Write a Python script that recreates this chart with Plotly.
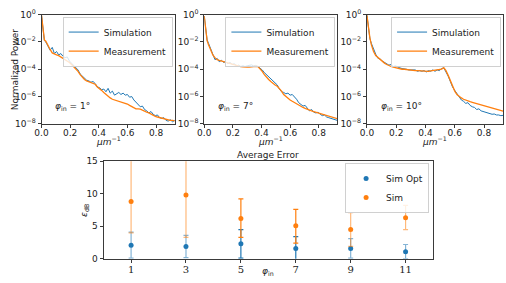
import plotly.graph_objects as go

# ---------------- data ----------------
FREQ = [0.000, 0.010, 0.020, 0.030, 0.045, 0.060, 0.075, 0.090, 0.105, 0.120, 0.135,
        0.150, 0.165, 0.180, 0.195, 0.210, 0.225, 0.240, 0.255, 0.270, 0.285, 0.300,
        0.315, 0.330, 0.345, 0.360, 0.375, 0.390, 0.405, 0.420, 0.435, 0.450, 0.465,
        0.480, 0.495, 0.510, 0.525, 0.540, 0.555, 0.570, 0.585, 0.600, 0.615, 0.630,
        0.645, 0.660, 0.675, 0.690, 0.705, 0.720, 0.735, 0.750, 0.765, 0.780, 0.795,
        0.810, 0.825, 0.840, 0.855, 0.870, 0.885, 0.900, 0.915, 0.930, 0.945, 0.960]

# log10 of normalized power
SIM_1 = [-0.05, -1.0, -1.9, -2.0, -2.25, -2.6, -2.4, -2.85, -2.7, -2.95, -2.85,
         -3.05, -3.15, -3.1, -3.4, -3.55, -3.75, -3.9, -4.05, -4.35, -4.5, -4.7,
         -4.8, -4.85, -4.95, -4.9, -5.05, -5.3, -5.35, -5.5, -5.45, -5.65, -5.4,
         -5.75, -5.6, -5.9, -5.8, -5.7, -5.85, -5.75, -5.9, -5.85, -6.05, -6.0,
         -6.25, -6.4, -6.6, -6.75, -6.7, -6.95, -7.05, -7.2, -7.1, -7.3, -7.4,
         -7.35, -7.55, -7.6, -7.55, -7.75, -7.8, -7.7, -7.85, -7.75, -7.8, -7.7]
MEAS_1 = [-0.05, -1.0, -1.85, -1.95, -2.3, -2.55, -2.8, -2.9, -2.95, -3.0, -3.1,
          -3.15, -3.25, -3.35, -3.5, -3.65, -3.8, -3.95, -4.15, -4.4, -4.6, -4.75,
          -4.85, -4.9, -4.95, -5.0, -5.1, -5.3, -5.4, -5.55, -5.7, -5.85, -5.95,
          -6.1, -6.2, -6.25, -6.3, -6.35, -6.35, -6.4, -6.45, -6.55, -6.65, -6.75,
          -6.85, -6.9, -6.9, -6.92, -7.0, -7.1, -7.15, -7.2, -7.3, -7.4, -7.45,
          -7.5, -7.55, -7.6, -7.65, -7.7, -7.72, -7.75, -7.75, -7.78, -7.8, -7.82]

SIM_7 = [-0.1, -1.0, -1.85, -2.1, -2.5, -2.8, -3.3, -3.2, -3.45, -3.35, -3.5,
         -3.45, -3.6, -3.5, -3.65, -3.6, -3.75, -3.7, -3.8, -3.75, -3.8, -3.75,
         -3.7, -3.68, -3.75, -3.72, -3.8, -3.9, -4.05, -4.25, -4.4, -4.5, -4.65,
         -4.8, -4.95, -5.15, -5.45, -5.65, -5.7, -5.8, -5.75, -5.9, -5.85, -6.0,
         -6.2, -6.45, -6.55, -6.7, -6.65, -6.9, -7.05, -6.95, -7.15, -7.2, -7.15,
         -7.3, -7.4, -7.35, -7.5, -7.55, -7.6, -7.65, -7.7, -7.75, -7.7, -7.75]
MEAS_7 = [-0.1, -1.0, -1.9, -2.2, -2.6, -2.95, -3.15, -3.3, -3.35, -3.4, -3.45,
          -3.5, -3.55, -3.6, -3.65, -3.7, -3.72, -3.75, -3.8, -3.82, -3.85, -3.85,
          -3.85, -3.82, -3.8, -3.78, -3.8, -3.95, -4.15, -4.4, -4.6, -4.75, -4.9,
          -5.05, -5.15, -5.25, -5.4, -5.6, -5.85, -6.0, -6.15, -6.25, -6.35, -6.45,
          -6.55, -6.65, -6.72, -6.8, -6.87, -6.95, -7.0, -7.05, -7.1, -7.15, -7.2,
          -7.25, -7.3, -7.35, -7.4, -7.45, -7.5, -7.55, -7.6, -7.65, -7.7, -7.72]

SIM_10 = [-0.05, -1.0, -1.75, -2.1, -2.55, -2.9, -3.2, -3.25, -3.4, -3.5, -3.55,
          -3.7, -3.65, -3.8, -3.75, -3.85, -3.9, -3.95, -3.95, -4.0, -4.05, -4.05,
          -4.1, -4.05, -4.15, -4.1, -4.15, -4.1, -4.2, -4.1, -4.15, -4.05, -4.15,
          -4.05, -4.1, -3.95, -3.9, -4.15, -4.5, -4.9, -5.3, -5.55, -5.8, -6.05,
          -6.25, -6.35, -6.5, -6.45, -6.65, -6.75, -6.8, -6.95, -6.9, -7.05, -7.1,
          -7.15, -7.2, -7.25, -7.3, -7.28, -7.35, -7.35, -7.4, -7.38, -7.4, -7.42]
MEAS_10 = [-0.05, -1.0, -1.7, -2.2, -2.7, -3.0, -3.15, -3.3, -3.45, -3.55, -3.65,
           -3.75, -3.8, -3.85, -3.9, -3.95, -3.97, -4.0, -4.0, -4.03, -4.05, -4.07,
           -4.08, -4.1, -4.1, -4.12, -4.13, -4.15, -4.15, -4.15, -4.12, -4.1, -4.1,
           -4.07, -4.05, -4.0, -3.88, -4.1, -4.45, -4.85, -5.25, -5.6, -5.85, -6.0,
           -6.1, -6.2, -6.27, -6.33, -6.38, -6.42, -6.47, -6.52, -6.57, -6.62, -6.67,
           -6.72, -6.77, -6.82, -6.87, -6.92, -6.96, -7.0, -7.04, -7.07, -7.1, -7.13]

PANEL_LABELS = ["1", "7", "10"]
Y_TICK_EXP = [0, -2, -4, -6, -8]
X_TICKS_TOP = [0.0, 0.2, 0.4, 0.6, 0.8]

PHI_IN = [1, 3, 5, 7, 9, 11]
SIM_OPT = [2.1, 1.9, 2.3, 1.6, 1.6, 1.1]
SIM_OPT_ERR = [2.0, 1.7, 2.2, 1.8, 1.5, 1.1]
SIM = [8.8, 9.8, 6.2, 5.1, 4.5, 6.3]
SIM_ERR_PLUS = [7.0, 6.5, 3.0, 2.5, 2.6, 1.9]
SIM_ERR_MINUS = [4.8, 6.5, 2.9, 2.7, 2.6, 1.8]

# ---------------- style ----------------
W, H = 506, 283
BLUE = "#1f77b4"
ORANGE = "#ff7f0e"
AX = "#3a3a3a"
FONT = "DejaVu Sans"
DARK_ERR_AT = {5, 7}


def px_x(p):
    return p / W


def px_y(p):
    return 1 - p / H


top_domains = [(35, 170), (200, 335), (365, 503)]
top_y = (8, 122)
bot_x = (98, 432)
bot_y = (161, 263)

fig = go.Figure()

axis_common = dict(showline=True, mirror=True, linecolor=AX, linewidth=1,
                   ticks="outside", ticklen=3, tickcolor=AX, tickwidth=1,
                   showgrid=False, zeroline=False,
                   tickfont=dict(family=FONT, size=9, color="#222"))

sims = [SIM_1, SIM_7, SIM_10]
meas = [MEAS_1, MEAS_7, MEAS_10]
annotations = []
for i in range(3):
    xa = "x" if i == 0 else f"x{i+1}"
    ya = "y" if i == 0 else f"y{i+1}"
    lg = "legend" if i == 0 else f"legend{i+1}"
    fig.add_trace(go.Scatter(x=FREQ, y=[10 ** v for v in sims[i]], mode="lines",
                             name="Simulation", line=dict(color=BLUE, width=1),
                             xaxis=xa, yaxis=ya, legend=lg))
    fig.add_trace(go.Scatter(x=FREQ, y=[10 ** v for v in meas[i]], mode="lines",
                             name="Measurement", line=dict(color=ORANGE, width=1.3),
                             xaxis=xa, yaxis=ya, legend=lg))
    d0, d1 = top_domains[i]
    xkey = "xaxis" if i == 0 else f"xaxis{i+1}"
    ykey = "yaxis" if i == 0 else f"yaxis{i+1}"
    fig.update_layout(**{
        xkey: dict(axis_common, domain=[px_x(d0), px_x(d1)], range=[0, 0.93],
                   anchor=ya, tickvals=X_TICKS_TOP, ticklabelstandoff=-3,
                   ticktext=[f"{t:.1f}" for t in X_TICKS_TOP]),
        ykey: dict(axis_common, domain=[px_y(top_y[1]), px_y(top_y[0])],
                   type="log", range=[-8, 0], anchor=xa,
                   tickvals=[10 ** e for e in Y_TICK_EXP],
                   ticktext=[f"10<sup>{str(e).replace('-', '−')}</sup>" for e in Y_TICK_EXP]),
        lg: dict(x=px_x(d1 - 2), y=px_y(10), xanchor="right", yanchor="top",
                 bgcolor="rgba(255,255,255,0.8)", bordercolor="#d0d0d0", borderwidth=1,
                 font=dict(family=FONT, size=9, color="#222"),
                 tracegroupgap=0, itemwidth=30),
    })
    annotations.append(dict(text=f"<i>φ</i><sub>in</sub> = {PANEL_LABELS[i]}°",
                            x=px_x(d0 + 12), y=px_y(104), xref="paper", yref="paper",
                            xanchor="left", yanchor="middle", showarrow=False,
                            font=dict(family=FONT, size=9, color="#222")))
    annotations.append(dict(text="<i>μm</i><sup>−1</sup>",
                            x=px_x((d0 + d1) / 2), y=px_y(140), xref="paper", yref="paper",
                            xanchor="center", yanchor="middle", showarrow=False,
                            font=dict(family=FONT, size=9, color="#222")))

# bottom panel
for name, vals, color, light, kw in [
    ("Sim Opt", SIM_OPT, BLUE, "rgba(31,119,180,0.55)",
     dict(array=SIM_OPT_ERR)),
    ("Sim", SIM, ORANGE, "rgba(255,127,14,0.55)",
     dict(array=SIM_ERR_PLUS, arrayminus=SIM_ERR_MINUS)),
]:
    for dark in (False, True):
        idx = [k for k, p in enumerate(PHI_IN) if (p in DARK_ERR_AT) == dark]
        err = dict(type="data", symmetric=("arrayminus" not in kw),
                   array=[kw["array"][k] for k in idx],
                   color=color if dark else light, thickness=1.2, width=2.5)
        if "arrayminus" in kw:
            err["arrayminus"] = [kw["arrayminus"][k] for k in idx]
        fig.add_trace(go.Scatter(x=[PHI_IN[k] for k in idx], y=[vals[k] for k in idx],
                                 mode="markers", name=name, legendgroup=name,
                                 showlegend=not dark,
                                 marker=dict(color=color, size=5, symbol="circle"),
                                 error_y=err, xaxis="x4", yaxis="y4", legend="legend4"))

fig.update_layout(
    xaxis4=dict(axis_common, domain=[px_x(bot_x[0]), px_x(bot_x[1])], range=[0, 12],
                anchor="y4", tickvals=PHI_IN, ticktext=[str(p) for p in PHI_IN],
                ticklabelstandoff=-2,
                tickfont=dict(family="DejaVu Serif", size=10, color="#222")),
    yaxis4=dict(axis_common, domain=[px_y(bot_y[1]), px_y(bot_y[0])], range=[0, 15],
                anchor="x4", tickvals=[0, 5, 10, 15]),
    legend4=dict(x=px_x(428), y=px_y(163), xanchor="right", yanchor="top",
                 bgcolor="rgba(255,255,255,0.8)", bordercolor="#d0d0d0", borderwidth=1,
                 font=dict(family=FONT, size=9, color="#222"), tracegroupgap=0),
)

annotations += [
    dict(text="Normalized Power", x=px_x(8), y=px_y(65), textangle=-90,
         xref="paper", yref="paper", showarrow=False, xanchor="center", yanchor="middle",
         font=dict(family=FONT, size=9, color="#222")),
    dict(text="Average Error", x=px_x((bot_x[0] + bot_x[1]) / 2), y=px_y(155),
         xref="paper", yref="paper", showarrow=False, xanchor="center", yanchor="middle",
         font=dict(family=FONT, size=9, color="#222")),
    dict(text="<i>ε</i><sub>dB</sub>", x=px_x(78), y=px_y(212), textangle=-90,
         xref="paper", yref="paper", showarrow=False, xanchor="center", yanchor="middle",
         font=dict(family=FONT, size=9, color="#222")),
    dict(text="<i>φ</i><sub>in</sub>", x=px_x((bot_x[0] + bot_x[1]) / 2), y=px_y(276),
         xref="paper", yref="paper", showarrow=False, xanchor="center", yanchor="middle",
         font=dict(family=FONT, size=9, color="#222")),
]

fig.update_layout(width=W, height=H, margin=dict(l=0, r=0, t=0, b=0),
                  paper_bgcolor="white", plot_bgcolor="white",
                  annotations=annotations, font=dict(family=FONT, size=9))

fig.write_html("out.html", config={"displayModeBar": False},
               post_script="document.body.style.margin='0';"
                           "document.body.style.padding='0';"
                           "document.body.style.overflow='hidden';")
